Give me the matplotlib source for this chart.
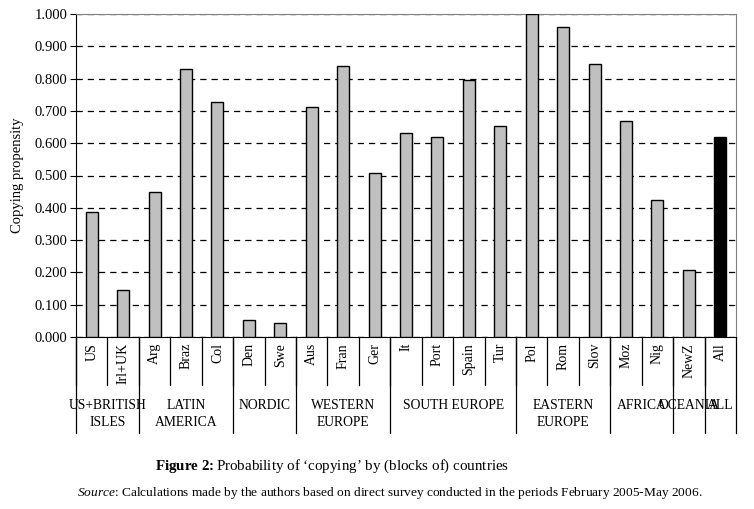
import matplotlib
matplotlib.use('Agg')
import matplotlib.pyplot as plt
import matplotlib.transforms as mtransforms

plt.rcParams['font.family'] = ['Liberation Serif', 'DejaVu Serif']
plt.rcParams['mathtext.fontset'] = 'custom'
plt.rcParams['mathtext.rm'] = 'Liberation Serif'
plt.rcParams['mathtext.it'] = 'Liberation Serif:italic'
plt.rcParams['mathtext.bf'] = 'Liberation Serif:bold'

# data
countries = ['US', 'Irl+UK', 'Arg', 'Braz', 'Col', 'Den', 'Swe', 'Aus', 'Fran', 'Ger',
             'It', 'Port', 'Spain', 'Tur', 'Pol', 'Rom', 'Slov', 'Moz', 'Nig', 'NewZ', 'All']
propensity = [0.388, 0.147, 0.450, 0.830, 0.727, 0.053, 0.043, 0.713, 0.840, 0.508,
              0.633, 0.620, 0.797, 0.652, 1.000, 0.960, 0.845, 0.668, 0.425, 0.207, 0.618]
groups = ['US+BRITISH\nISLES', 'LATIN\nAMERICA', 'NORDIC', 'WESTERN\nEUROPE', 'SOUTH EUROPE',
          'EASTERN\nEUROPE', 'AFRICA', 'OCEANIA', 'ALL']
group_sizes = [2, 3, 2, 3, 4, 3, 2, 1, 1]
yticks = [0.0, 0.1, 0.2, 0.3, 0.4, 0.5, 0.6, 0.7, 0.8, 0.9, 1.0]

fig = plt.figure(figsize=(7.54, 5.09), dpi=100)
ax = fig.add_axes([76/754, 1-337/509, 660/754, 323/509])

x = list(range(len(countries)))
colors = ['#c0c0c0'] * (len(countries) - 1) + ['black']
ax.bar(x, propensity, width=0.38, color=colors, edgecolor='black', linewidth=1, zorder=3)

ax.set_xlim(-0.5, len(countries) - 0.5)
ax.set_ylim(0, 1.0)
ax.set_yticks(yticks)
ax.set_yticklabels(['%.3f' % v for v in yticks], fontsize=10.5)
ax.yaxis.grid(True, linestyle=(0, (5, 4)), color='black', linewidth=0.9, zorder=0)
ax.set_xticks([])
ax.tick_params(axis='y', length=4, width=0.8, pad=2)
ax.spines['top'].set_color('#808080')
ax.spines['right'].set_color('#808080')
fig.text(18/754, 1-175/509, 'Copying propensity', rotation=90, fontsize=10.5,
         ha='center', va='center')

trans = mtransforms.blended_transform_factory(ax.transData, ax.transAxes)
short_y = -48/323
long_y = -96/323

# category labels and short dividers
for i, c in enumerate(countries):
    ax.text(i, -6/323, c, transform=trans, rotation=90, ha='center', va='top', fontsize=10)
    ax.plot([i - 0.5, i - 0.5], [0, short_y], transform=trans, color='black', lw=0.9, clip_on=False)

# group labels and long dividers
start = 0
for g, n in zip(groups, group_sizes):
    ax.plot([start - 0.5, start - 0.5], [0, long_y], transform=trans, color='black', lw=0.9, clip_on=False)
    ax.text(start + (n - 1) / 2, -62/323, g, transform=trans, ha='center', va='top',
            fontsize=9.8, linespacing=1.45)
    start += n
ax.plot([start - 0.5, start - 0.5], [0, long_y], transform=trans, color='black', lw=0.9, clip_on=False)

caption = '$\\bf{Figure\\ 2\\!:}$Probability of \u2018copying\u2019 by (blocks of) countries'
fig.text(332/754, 1-466/509, caption, fontsize=10.8, ha='center', va='center')
fig.text(390/754, 1-493/509,
         '$\\it{Source}$: Calculations made by the authors based on direct survey conducted in the periods February 2005-May 2006.',
         fontsize=9.6, ha='center', va='center')

fig.savefig('out.png', dpi=100)
